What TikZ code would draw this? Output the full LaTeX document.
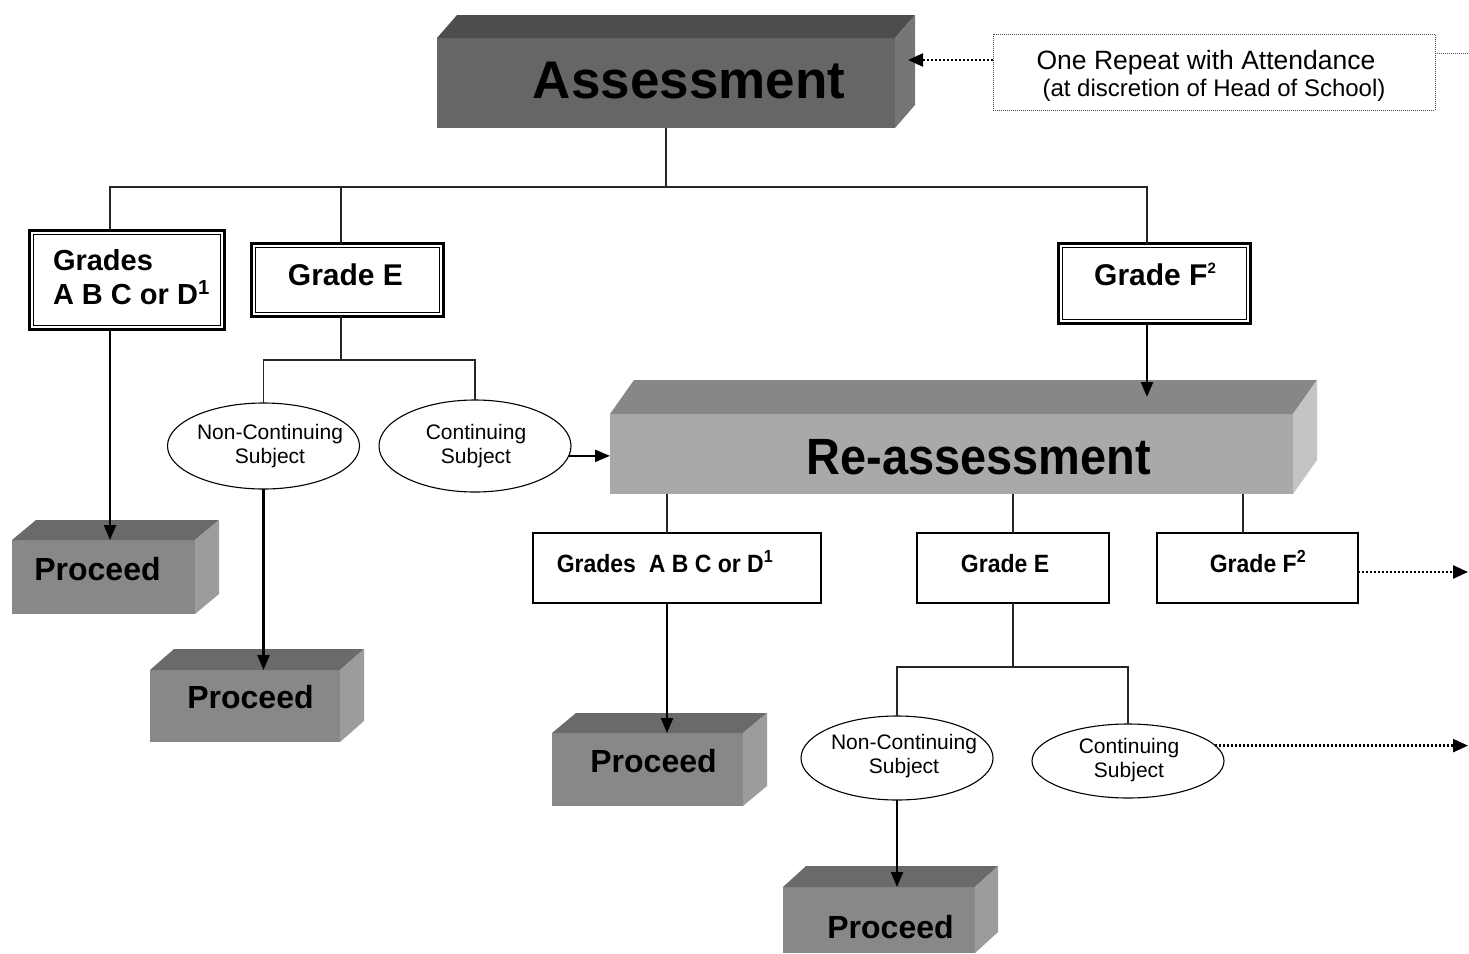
\documentclass[tikz,border=0pt]{standalone}
\usepackage{fontspec}
\usepackage{graphicx}
\setmainfont{Liberation Sans}
\usetikzlibrary{arrows.meta,shapes.geometric,calc}
\definecolor{asFront}{HTML}{666666}
\definecolor{asTop}{HTML}{4D4D4D}
\definecolor{asSide}{HTML}{767676}
\definecolor{reFront}{HTML}{A9A9A9}
\definecolor{reTop}{HTML}{878787}
\definecolor{reSide}{HTML}{C4C4C4}
\definecolor{prFront}{HTML}{888888}
\definecolor{prTop}{HTML}{6A6A6A}
\definecolor{prSide}{HTML}{9C9C9C}
\newcommand\fsz[1]{\fontsize{#1}{#1}\selectfont}
\newcommand\cubefaces[5]{%
  \fill[#4] (#1.north west) -- ++(#2,-#3) -- ($(#1.north east)+(#2,-#3)$) -- (#1.north east) -- cycle;
  \fill[#5] (#1.north east) -- ($(#1.north east)+(#2,-#3)$) -- ($(#1.south east)+(#2,-#3)$) -- (#1.south east) -- cycle;}
\newcommand\innerframe[1]{\draw[line width=1.4pt] ([shift={(4.4pt,-4.4pt)}]#1.north west) rectangle ([shift={(-4.4pt,4.4pt)}]#1.south east);}
\begin{document}
\begin{tikzpicture}[x=1pt,y=-1pt,
  every node/.style={outer sep=0pt, inner sep=0pt},
  conn/.style={line width=1.1pt, draw=black!85},
  arr/.style={line width=2.2pt, -{Triangle[length=15pt,width=12pt]}},
  dotarr/.style={line width=2.4pt, dash pattern=on 2pt off 2pt, -{Triangle[length=15pt,width=13pt]}},
  cubefront/.style={rectangle, draw=none},
  dblbox/.style={rectangle, draw, line width=2.6pt, fill=white},
  tbox/.style={rectangle, draw, line width=1.2pt, fill=white},
  oval/.style={ellipse, draw, line width=1.1pt, fill=white, minimum width=192pt},
  ovaltxt/.style={align=center, font=\fontsize{21}{24}\selectfont},
  bigtxt/.style={anchor=base, font=\bfseries\fsz{53}},
  protxt/.style={anchor=base, font=\bfseries\fsz{32}},
  gtxt/.style={anchor=base, font=\bfseries\fsz{30}},
  stxt/.style={anchor=base, font=\bfseries\fsz{25}},
  notebox/.style={rectangle, draw=black!70, line width=0.9pt, dash pattern=on 1pt off 1pt}]
\useasboundingbox (0,0) rectangle (1469,953);
\fill[white] (0,0) rectangle (1469,953);

% ---------- Assessment ----------
\node[cubefront, fill=asFront, minimum width=458pt, minimum height=90pt] (assess) at (666,83) {};
\cubefaces{assess}{20}{23}{asTop}{asSide}
\node[bigtxt] (assessT) at (689,98) {Assessment};

% ---------- note ----------
\node[notebox, minimum width=442pt, minimum height=76pt] (note) at (1214,72) {};
\node[anchor=base, font=\fsz{26.5}] (noteT1) at (1206,69) {One Repeat with Attendance};
\node[anchor=base, font=\fsz{24}] (noteT2) at (1214,96) {(at discretion of Head of School)};
\coordinate (na) at ([yshift=12pt]note.west);
\coordinate (aR) at ([xshift=13pt]assess.east);
\draw[dotarr] (na) -- (na -| aR);
\coordinate (nb) at ([yshift=19pt]note.east);
\coordinate (edgeR) at (1469,0);
\draw[draw=black!70, line width=0.9pt, dash pattern=on 1pt off 1pt] (nb) -- (nb -| edgeR);

% ---------- first-level grade boxes ----------
\node[dblbox, minimum width=195.4pt, minimum height=99.4pt] (gA) at (127,280) {};
\innerframe{gA}
\node[anchor=base west, font=\bfseries\fsz{29}] (gAT1) at (53,270) {Grades};
\node[anchor=base west, font=\bfseries\fsz{29}] (gAT2) at (53,304) {A B C or D\textsuperscript{1}};

\node[dblbox, minimum width=192.4pt, minimum height=73.4pt] (gE) at (347.5,280) {};
\innerframe{gE}
\node[gtxt] (gET) at (345.5,285) {Grade E};

\node[dblbox, minimum width=192.4pt, minimum height=80.4pt] (gF) at (1154.5,283.5) {};
\innerframe{gF}
\node[gtxt] (gFT) at (1155,285) {Grade F\raisebox{0.7ex}{\fsz{15}2}};

% connectors from Assessment
\coordinate (bus1) at (0,187);
\coordinate (gAtop) at ([xshift=-17pt]gA.north);
\coordinate (gEtop) at ([xshift=-6.5pt]gE.north);
\coordinate (gFtop) at ([xshift=-7.5pt]gF.north);
\draw[conn] (assess.south) -- (assess.south |- bus1);
\draw[conn] (gAtop) |- (gFtop |- bus1) -- (gFtop);
\draw[conn] (gEtop) -- (gEtop |- bus1);

% ---------- Proceed 1 ----------
\node[cubefront, fill=prFront, minimum width=183pt, minimum height=74pt] (p1) at (103.5,577) {};
\cubefaces{p1}{24}{20}{prTop}{prSide}
\node[protxt] (p1T) at (97.5,580) {Proceed};
\coordinate (gAbot) at ([xshift=-17pt]gA.south);
\draw[arr] (gAbot) -- (gAbot |- p1.north);

% ---------- Grade E branch ----------
\node[oval, minimum height=86pt] (nc1) at (263.5,446) {};
\node[ovaltxt] (nc1T) at (270,446) {Non-Continuing\\Subject};
\node[oval, minimum height=92pt] (c1) at (475,446) {};
\node[ovaltxt] (c1T) at (476,446) {Continuing\\Subject};
\coordinate (bus2) at (0,360);
\coordinate (gEbot) at ([xshift=-6.5pt]gE.south);
\draw[conn] (gEbot) -- (gEbot |- bus2);
\draw[conn] (nc1.north) |- (c1.north |- bus2) -- (c1.north);

\node[cubefront, fill=prFront, minimum width=190pt, minimum height=72pt] (p2) at (245,706) {};
\cubefaces{p2}{24}{21}{prTop}{prSide}
\node[protxt] (p2T) at (250.5,708) {Proceed};
\draw[arr] (nc1.south) -- (nc1.south |- p2.north);

% ---------- Re-assessment ----------
\node[cubefront, fill=reFront, minimum width=683pt, minimum height=80pt] (reassess) at (951.5,454) {};
\cubefaces{reassess}{24}{34}{reTop}{reSide}
\node[anchor=base, font=\bfseries\fsz{51}] (reT) at (979,474) {\scalebox{0.92}[1]{Re-assessment}};
\coordinate (c1a) at (c1.-6);
\draw[arr] (c1a) -- (c1a -| reassess.west);
\coordinate (rtop) at (0,397);
\coordinate (gFbot) at ([xshift=-7.5pt]gF.south);
\draw[arr] (gFbot) -- (gFbot |- rtop);

% ---------- second-level grade boxes ----------
\node[tbox, minimum width=288pt, minimum height=70pt] (g2a) at (677,568) {};
\node[stxt] (g2aT) at (665,572) {\scalebox{0.92}[1]{Grades\ \ A B C or D\textsuperscript{1}}};
\node[tbox, minimum width=192pt, minimum height=70pt] (g2e) at (1013,568) {};
\node[stxt] (g2eT) at (1005,572) {\scalebox{0.92}[1]{Grade E}};
\node[tbox, minimum width=201pt, minimum height=70pt] (g2f) at (1257.5,568) {};
\node[stxt] (g2fT) at (1258,572) {\scalebox{0.92}[1]{Grade F\textsuperscript{2}}};

\coordinate (r2a) at ([xshift=-10pt]g2a.north);
\coordinate (r2f) at ([xshift=-14.5pt]g2f.north);
\draw[conn] (r2a) -- (r2a |- reassess.south);
\draw[conn] (g2e.north) -- (g2e.north |- reassess.south);
\draw[conn] (r2f) -- (r2f |- reassess.south);

\coordinate (edgeA) at (1468,0);
\coordinate (g2fa) at ([yshift=-4pt]g2f.east);
\draw[dotarr] (g2fa) -- (g2fa -| edgeA);

% ---------- Proceed 3 ----------
\node[cubefront, fill=prFront, minimum width=191pt, minimum height=73pt] (p3) at (647.5,769.5) {};
\cubefaces{p3}{24}{20}{prTop}{prSide}
\node[protxt] (p3T) at (653.5,772) {Proceed};
\coordinate (g2abot) at ([xshift=-10pt]g2a.south);
\draw[arr] (g2abot) -- (g2abot |- p3.north);

% ---------- Grade E (second) branch ----------
\node[oval, minimum height=84pt] (nc2) at (897,758) {};
\node[ovaltxt] (nc2T) at (904,756) {Non-Continuing\\Subject};
\node[oval, minimum height=74pt] (c2) at (1128,761) {};
\node[ovaltxt] (c2T) at (1129,760) {Continuing\\Subject};
\coordinate (bus3) at (0,667);
\draw[conn] (g2e.south) -- (g2e.south |- bus3);
\draw[conn] (nc2.north) |- (c2.north |- bus3) -- (c2.north);
\coordinate (c2a) at (c2.10);
\draw[dotarr] (c2a) -- (c2a -| edgeA);

\node[cubefront, fill=prFront, minimum width=192pt, minimum height=66pt] (p4) at (879,920) {};
\cubefaces{p4}{23}{21}{prTop}{prSide}
\node[protxt] (p4T) at (890.5,938) {Proceed};
\draw[arr] (nc2.south) -- (nc2.south |- p4.north);
\end{tikzpicture}
\end{document}
